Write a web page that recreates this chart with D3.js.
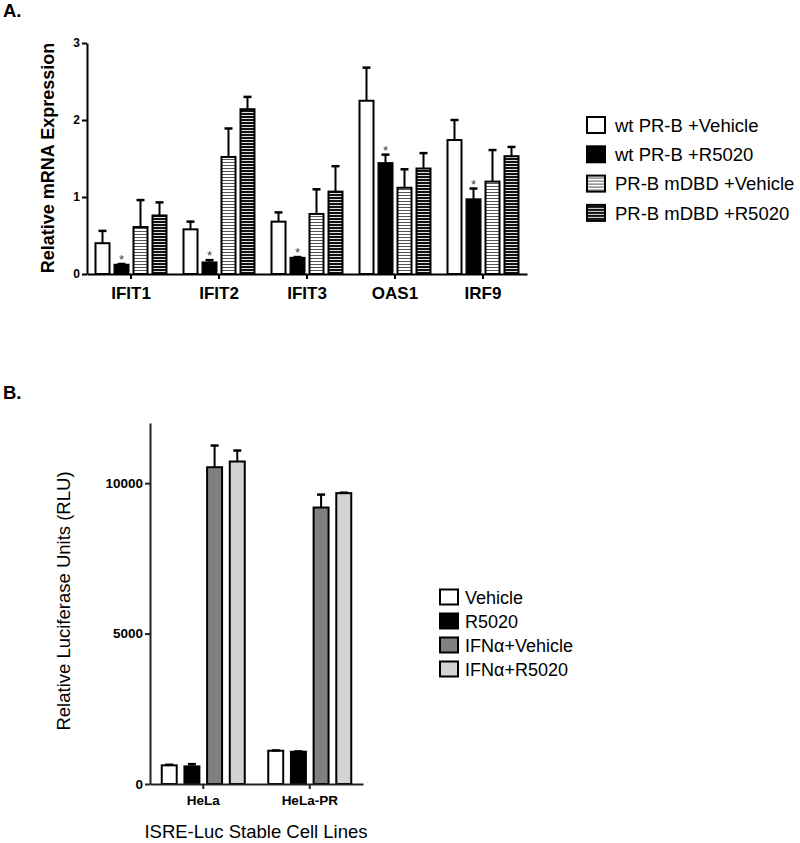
<!DOCTYPE html>
<html>
<head>
<meta charset="utf-8">
<script src="https://cdn.jsdelivr.net/npm/d3@7"></script>
<style>
  body { margin: 0; background: #fff; }
  text { font-family: "Liberation Sans", Arial, sans-serif; }
</style>
</head>
<body>
<div id="chart"></div>
<script>
// ---- Panel A data ----
const genes = ["IFIT1", "IFIT2", "IFIT3", "OAS1", "IRF9"];
const seriesA = ["wt PR-B +Vehicle", "wt PR-B +R5020", "PR-B mDBD +Vehicle", "PR-B mDBD +R5020"];
const wtVehicle = [0.40, 0.58, 0.68, 2.25, 1.74];
const wtVehicleErr = [0.16, 0.10, 0.12, 0.43, 0.26];
const wtR5020 = [0.12, 0.15, 0.21, 1.44, 0.97];
const wtR5020Err = [0.01, 0.03, 0.01, 0.11, 0.14];
const mdbdVehicle = [0.61, 1.52, 0.78, 1.12, 1.20];
const mdbdVehicleErr = [0.35, 0.37, 0.32, 0.24, 0.41];
const mdbdR5020 = [0.76, 2.14, 1.07, 1.37, 1.53];
const mdbdR5020Err = [0.17, 0.16, 0.33, 0.20, 0.12];
const starredA = [1]; // series index that carries the * above each gene
const ticksA = [0, 1, 2, 3];

// ---- Panel B data ----
const cellLines = ["HeLa", "HeLa-PR"];
const seriesB = ["Vehicle", "R5020", "IFN\u03b1+Vehicle", "IFN\u03b1+R5020"];
const vehicleB = [620, 1106];
const vehicleBErr = [20, 10];
const r5020B = [585, 1073];
const r5020BErr = [75, 10];
const ifnVehicleB = [10530, 9190];
const ifnVehicleBErr = [720, 430];
const ifnR5020B = [10720, 9668];
const ifnR5020BErr = [365, 15];
const ticksB = [0, 5000, 10000];

const svg = d3.select("#chart").append("svg")
    .attr("width", 800)
    .attr("height", 843);

// hatch patterns for the mDBD bars
const defs = svg.append("defs");
const light = defs.append("pattern").attr("id", "hLight")
    .attr("patternUnits", "userSpaceOnUse").attr("width", 6).attr("height", 3);
light.append("rect").attr("width", 6).attr("height", 3).attr("fill", "#fff");
light.append("rect").attr("y", 0).attr("width", 6).attr("height", 1).attr("fill", "#555");
const dark = defs.append("pattern").attr("id", "hDark")
    .attr("patternUnits", "userSpaceOnUse").attr("width", 6).attr("height", 3);
dark.append("rect").attr("width", 6).attr("height", 3).attr("fill", "#111");
dark.append("rect").attr("y", 1).attr("width", 6).attr("height", 1).attr("fill", "#ddd");

const fillsA = ["#fff", "#000", "url(#hLight)", "url(#hDark)"];
const fillsB = ["#fff", "#000", "#808080", "#d3d3d3"];

function drawGroups(g, cats, values, errs, x, inner, y, fills, capW) {
    const mid = c => x(c) + x.bandwidth() / 2;
    values.forEach((vals, s) => {
        const grp = g.append("g");
        const rows = cats.map((c, i) => ({ c, v: vals[i], e: errs[s][i] }));
        grp.selectAll("rect")
            .data(rows)
            .enter().append("rect")
            .attr("x", d => mid(d.c) + inner(s))
            .attr("y", d => y(d.v))
            .attr("width", inner.bandwidth())
            .attr("height", d => y(0) - y(d.v))
            .attr("fill", fills[s])
            .attr("stroke", "#000")
            .attr("stroke-width", 2);
        const eb = grp.selectAll(".err")
            .data(rows)
            .enter().append("g").attr("class", "err")
            .attr("transform", d => `translate(${mid(d.c) + inner(s) + inner.bandwidth() / 2},0)`);
        eb.append("line")
            .attr("y1", d => y(d.v)).attr("y2", d => y(d.v + d.e))
            .attr("stroke", "#000").attr("stroke-width", 2);
        eb.append("line")
            .attr("x1", -capW / 2).attr("x2", capW / 2)
            .attr("y1", d => y(d.v + d.e)).attr("y2", d => y(d.v + d.e))
            .attr("stroke", "#000").attr("stroke-width", 2.5);
    });
}

// ================= Panel A =================
const xA = d3.scaleBand().domain(genes).range([87, 527]);
const innerA = d3.scaleBand().domain(d3.range(4)).range([-35.5, 35.5]).paddingInner(0.263);
const yA = d3.scaleLinear().domain([0, 3]).range([274, 43]);
const valsA = [wtVehicle, wtR5020, mdbdVehicle, mdbdR5020];
const errsA = [wtVehicleErr, wtR5020Err, mdbdVehicleErr, mdbdR5020Err];

svg.append("text").attr("x", 3).attr("y", 17)
    .style("font-size", "18.5px").style("font-weight", "bold").text("A.");

const gA = svg.append("g");
drawGroups(gA, genes, valsA, errsA, xA, innerA, yA, fillsA, 8);

// stars over the R5020 bars
starredA.forEach(s => {
    gA.selectAll(".star" + s)
        .data(genes.map((c, i) => ({ c, top: valsA[s][i] + errsA[s][i] })))
        .enter().append("text")
        .attr("x", d => xA(d.c) + xA.bandwidth() / 2 + innerA(s) + innerA.bandwidth() / 2)
        .attr("y", d => yA(d.top))
        .attr("text-anchor", "middle")
        .attr("fill", "#444")
        .style("font-size", "13px")
        .text("*");
});

const axAy = gA.append("g").attr("transform", "translate(87,0)")
    .call(d3.axisLeft(yA).tickValues(ticksA).tickFormat(d3.format("d"))
        .tickSize(5).tickSizeOuter(0).tickPadding(2));
const axAx = gA.append("g").attr("transform", "translate(0,274)")
    .call(d3.axisBottom(xA).tickSize(5).tickSizeOuter(0).tickPadding(8));
[axAy, axAx].forEach(a => {
    a.select(".domain").attr("stroke-width", 2);
    a.selectAll(".tick line").attr("stroke-width", 2);
    a.selectAll("text").attr("fill", "#000").style("font-weight", "bold")
        .style("font-family", "'Liberation Sans', Arial, sans-serif");
});
axAy.selectAll("text").style("font-size", "12px");
axAx.selectAll("text").style("font-size", "17px");

gA.append("text")
    .attr("transform", "translate(54,158) rotate(-90)")
    .attr("text-anchor", "middle")
    .style("font-size", "18px").style("font-weight", "bold")
    .text("Relative mRNA Expression");

// legend A
const legA = svg.append("g").selectAll("g").data(seriesA).enter().append("g")
    .attr("transform", (d, i) => `translate(587,${125 + i * 29.3})`);
legA.append("rect").attr("x", 0).attr("y", -8).attr("width", 18).attr("height", 16)
    .attr("fill", (d, i) => fillsA[i]).attr("stroke", "#000").attr("stroke-width", 2);
legA.append("text").attr("x", 28).attr("y", 6.7)
    .style("font-size", "18.5px").text(d => d);

// ================= Panel B =================
const xB = d3.scaleBand().domain(cellLines).range([150, 363]);
const innerB = d3.scaleBand().domain(d3.range(4)).range([-41.5, 41.5]).paddingInner(0.34);
const yB = d3.scaleLinear().domain([0, 12000]).range([784, 423]);
const valsB = [vehicleB, r5020B, ifnVehicleB, ifnR5020B];
const errsB = [vehicleBErr, r5020BErr, ifnVehicleBErr, ifnR5020BErr];

svg.append("text").attr("x", 3).attr("y", 399)
    .style("font-size", "18.5px").style("font-weight", "bold").text("B.");

const gB = svg.append("g");
drawGroups(gB, cellLines, valsB, errsB, xB, innerB, yB, fillsB, 8);

const axBy = gB.append("g").attr("transform", "translate(150,0)")
    .call(d3.axisLeft(yB).tickValues(ticksB).tickSize(5).tickSizeOuter(0).tickPadding(2).tickFormat(d3.format("d")));
const axBx = gB.append("g").attr("transform", "translate(0,784)")
    .call(d3.axisBottom(xB).tickSize(5).tickSizeOuter(0).tickPadding(6));
[axBy, axBx].forEach(a => {
    a.select(".domain").attr("stroke", "#222").attr("stroke-width", 2);
    a.selectAll(".tick line").attr("stroke", "#222").attr("stroke-width", 2);
    a.selectAll("text").attr("fill", "#000").style("font-weight", "bold")
        .style("font-size", "13.5px")
        .style("font-family", "'Liberation Sans', Arial, sans-serif");
});

gB.append("text")
    .attr("transform", "translate(70,601) rotate(-90)")
    .attr("text-anchor", "middle")
    .style("font-size", "18.5px")
    .text("Relative Luciferase Units (RLU)");

gB.append("text")
    .attr("x", 256).attr("y", 838)
    .attr("text-anchor", "middle")
    .style("font-size", "18.5px")
    .text("ISRE-Luc Stable Cell Lines");

// legend B
const legB = svg.append("g").selectAll("g").data(seriesB).enter().append("g")
    .attr("transform", (d, i) => `translate(440,${597 + i * 24})`);
legB.append("rect").attr("x", 0).attr("y", -7.5).attr("width", 18).attr("height", 15)
    .attr("fill", (d, i) => fillsB[i]).attr("stroke", "#000").attr("stroke-width", 2);
legB.append("text").attr("x", 25).attr("y", 6.5)
    .style("font-size", "18px").text(d => d);
</script>
</body>
</html>
